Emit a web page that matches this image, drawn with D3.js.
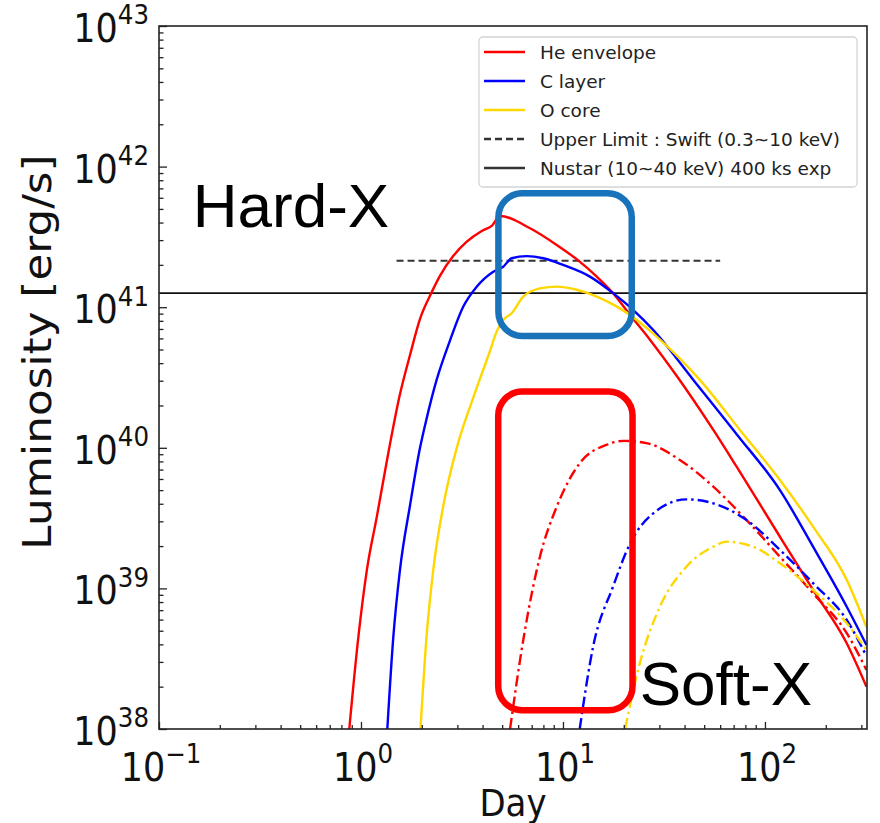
<!DOCTYPE html>
<html>
<head>
<meta charset="utf-8">
<script src="https://cdn.jsdelivr.net/npm/d3@7"></script>
<style>
  html, body { margin: 0; padding: 0; background: #fff; }
  svg { display: block; }
</style>
</head>
<body>
<svg id="chart" width="880" height="823"></svg>
<script>
// ---- Data: [day, luminosity erg/s] ----
const heEnvelopeHard = [
  [0.875, 1.0e38], [0.97, 4.48e38], [1.07, 1.36e39], [1.20, 3.28e39], [1.34, 7.93e39],
  [1.56, 2.41e40], [1.75, 4.59e40], [1.96, 8.26e40], [2.24, 1.28e41], [2.46, 1.67e41],
  [2.86, 2.31e41], [3.33, 2.91e41], [3.96, 3.48e41], [4.44, 3.79e41], [4.88, 4.45e41],
  [6.87, 3.64e41], [9.31, 2.77e41], [12.1, 2.11e41], [14.7, 1.65e41], [17.7, 1.26e41],
  [21.5, 8.8e40], [27.0, 5.85e40], [36.6, 3.24e40], [55.5, 1.34e40], [72.4, 7.34e39],
  [118.6, 2.33e39], [173, 9.75e38], [254, 4.07e38], [318, 2.0e38]
];
const cLayerHard = [
  [1.35, 1.0e38], [1.445, 4.48e38], [1.56, 1.36e39], [1.75, 3.92e39], [1.96, 1.0e40],
  [2.11, 1.60e40], [2.37, 3.05e40], [2.76, 5.81e40], [3.21, 1.01e41], [3.74, 1.40e41],
  [4.52, 1.79e41], [5.06, 1.94e41], [5.57, 2.23e41], [6.61, 2.31e41], [7.99, 2.23e41],
  [10.0, 2.0e41], [13.6, 1.65e41], [17.7, 1.26e41], [22.3, 9.55e40], [28.0, 6.89e40],
  [44.2, 3.04e40], [72.4, 1.25e40], [118.6, 5.0e39], [173, 1.98e39], [254, 7.41e38],
  [318, 3.96e38]
];
const oCoreHard = [
  [1.97, 1.0e38], [2.11, 4.48e38], [2.28, 1.36e39], [2.56, 3.92e39], [2.98, 1.0e40],
  [3.60, 2.28e40], [4.35, 4.88e40], [4.70, 6.73e40], [5.06, 8.11e40], [5.57, 9.05e40],
  [6.36, 1.19e41], [7.69, 1.36e41], [9.31, 1.40e41], [11.7, 1.33e41], [14.7, 1.19e41],
  [18.5, 1.01e41], [23.2, 8.11e40], [29.1, 6.17e40], [47.6, 3.04e40], [75.2, 1.34e40],
  [118.6, 5.9e39], [173, 2.75e39], [254, 1.15e39], [318, 5.31e38]
];
const heEnvelopeSoft = [
  [5.47, 1.0e38], [6.36, 4.3e38], [7.69, 1.68e39], [9.31, 3.81e39], [12.1, 7.76e39],
  [16.4, 1.05e40], [19.9, 1.12e40], [25.9, 1.08e40], [37.9, 8.19e39], [55.5, 5.29e39],
  [81.1, 3.06e39], [118.6, 1.68e39], [173, 9.23e38], [254, 4.8e38], [318, 2.63e38]
];
const cLayerSoft = [
  [12.1, 1.0e38], [14.1, 3.85e38], [17.7, 1.03e39], [21.5, 2.09e39], [28.0, 3.42e39],
  [40.9, 4.3e39], [55.5, 4.03e39], [81.1, 3.06e39], [118.6, 1.88e39], [173, 1.09e39],
  [254, 5.96e38], [318, 3.3e38]
];
const oCoreSoft = [
  [20.3, 1.0e38], [24.0, 2.93e38], [30.2, 7.41e38], [40.9, 1.43e39], [55.5, 1.98e39],
  [64.5, 2.15e39], [87.5, 1.98e39], [118.6, 1.51e39], [173, 9.75e38], [254, 5.65e38],
  [318, 3.65e38]
];

// Detection limits
const swiftLimit = { from: 1.5, to: 60, lum: 2.14e41 };
const nustarLimit = 1.26e41;

// Axis ticks
const xMajorTicks = [0.1, 1, 10, 100];
const xExponents = ["\u22121", "0", "1", "2"];
const yMajorTicks = [1e38, 1e39, 1e40, 1e41, 1e42, 1e43];
const yExponents = ["38", "39", "40", "41", "42", "43"];

// Legend entries
const legendLabels = ["He envelope", "C layer", "O core",
  "Upper Limit : Swift (0.3~10 keV)", "Nustar (10~40 keV) 400 ks exp"];

// Highlight boxes (day range, luminosity range)
const hardBox = { d0: 4.79, d1: 21.9, l0: 6.24e40, l1: 6.46e41 };
const softBox = { d0: 4.78, d1: 22.1, l0: 1.36e38, l1: 2.51e40 };

// ---- Layout ----
const svg = d3.select("#chart");
const plot = { left: 159, right: 867, top: 26, bottom: 729 };

const x = d3.scaleLog().domain([0.1, 320]).range([plot.left, plot.right]);
const y = d3.scaleLog().domain([1e38, 1e43]).range([plot.bottom, plot.top]);

const RED = "#ff0000", BLUE = "#0000ff", GOLD = "#ffd700";
const DASHDOT = "11,4,2.5,4";

svg.append("defs").append("clipPath").attr("id", "plotClip")
  .append("rect")
  .attr("x", plot.left).attr("y", plot.top)
  .attr("width", plot.right - plot.left).attr("height", plot.bottom - plot.top);

const line = d3.line()
  .x(d => x(d[0])).y(d => y(d[1]))
  .curve(d3.curveMonotoneX);

const curves = svg.append("g").attr("clip-path", "url(#plotClip)");

// Detection limit lines
curves.append("line")
  .attr("x1", x(swiftLimit.from)).attr("x2", x(swiftLimit.to))
  .attr("y1", y(swiftLimit.lum)).attr("y2", y(swiftLimit.lum))
  .attr("stroke", "#333").attr("stroke-width", 2).attr("stroke-dasharray", "7,4");
curves.append("line")
  .attr("x1", plot.left).attr("x2", plot.right)
  .attr("y1", y(nustarLimit)).attr("y2", y(nustarLimit))
  .attr("stroke", "#111").attr("stroke-width", 1.8);

const series = [
  { data: heEnvelopeHard, color: RED, dash: null },
  { data: cLayerHard, color: BLUE, dash: null },
  { data: oCoreHard, color: GOLD, dash: null },
  { data: heEnvelopeSoft, color: RED, dash: DASHDOT },
  { data: cLayerSoft, color: BLUE, dash: DASHDOT },
  { data: oCoreSoft, color: GOLD, dash: DASHDOT }
];
series.forEach(s => {
  curves.append("path")
    .datum(s.data)
    .attr("d", line)
    .attr("fill", "none")
    .attr("stroke", s.color)
    .attr("stroke-width", 2.4)
    .attr("stroke-linejoin", "round")
    .attr("stroke-dasharray", s.dash);
});

// ---- Axes (ticks pointing inward) ----
const xMinor = [];
for (let e = -1; e <= 2; e++) {
  for (let m = 2; m <= 9; m++) {
    const v = m * Math.pow(10, e);
    if (v <= 320) xMinor.push(v);
  }
}
const yMinor = [];
for (let e = 38; e < 43; e++) {
  for (let m = 2; m <= 9; m++) yMinor.push(m * Math.pow(10, e));
}

const xAxisMajor = svg.append("g")
  .attr("transform", `translate(0,${plot.bottom})`)
  .call(d3.axisBottom(x).tickValues(xMajorTicks).tickSize(-7).tickFormat(""));
const xAxisMinor = svg.append("g")
  .attr("transform", `translate(0,${plot.bottom})`)
  .call(d3.axisBottom(x).tickValues(xMinor).tickSize(-4).tickFormat(""));
const yAxisMajor = svg.append("g")
  .attr("transform", `translate(${plot.left},0)`)
  .call(d3.axisLeft(y).tickValues(yMajorTicks).tickSize(-8).tickFormat(""));
const yAxisMinor = svg.append("g")
  .attr("transform", `translate(${plot.left},0)`)
  .call(d3.axisLeft(y).tickValues(yMinor).tickSize(-4.5).tickFormat(""));

[xAxisMajor, xAxisMinor, yAxisMajor, yAxisMinor].forEach(g => {
  g.select(".domain").remove();
  g.selectAll(".tick line").attr("stroke", "#222").attr("stroke-width", 1.3);
});

// Frame
svg.append("rect")
  .attr("x", plot.left).attr("y", plot.top)
  .attr("width", plot.right - plot.left).attr("height", plot.bottom - plot.top)
  .attr("fill", "none").attr("stroke", "#222").attr("stroke-width", 1.6);

const FONT = "'DejaVu Sans', sans-serif";

// Power-of-ten tick labels
function powerLabel(g, base, exp, anchor) {
  const t = g.append("text")
    .attr("font-family", FONT).attr("fill", "#111")
    .attr("text-anchor", anchor);
  t.append("tspan").attr("font-size", 35).text(base);
  t.append("tspan").attr("font-size", 24.5).attr("dy", -16).text(exp);
  return t;
}

xMajorTicks.forEach((v, i) => {
  const g = svg.append("g").attr("transform", `translate(${x(v) + 2},781) scale(1,1.1)`);
  powerLabel(g, "10", xExponents[i], "middle");
});
yMajorTicks.forEach((v, i) => {
  const g = svg.append("g").attr("transform", `translate(149,${y(v) + 16}) scale(1,1.1)`);
  powerLabel(g, "10", yExponents[i], "end");
});

// Axis titles
svg.append("g").attr("transform", `translate(${(plot.left + plot.right) / 2},816) scale(1,1.1)`)
  .append("text")
  .attr("font-family", FONT).attr("font-size", 34).attr("fill", "#111")
  .attr("text-anchor", "middle").text("Day");
svg.append("g").attr("transform", "translate(51,352) scale(1,1.12) rotate(-90)")
  .append("text")
  .attr("font-family", FONT).attr("font-size", 39).attr("fill", "#111")
  .attr("text-anchor", "middle").text("Luminosity [erg/s]");

// ---- Legend ----
const legend = svg.append("g");
legend.append("rect")
  .attr("x", 479).attr("y", 37).attr("width", 378).attr("height", 150)
  .attr("rx", 4).attr("fill", "#fff").attr("fill-opacity", 0.85)
  .attr("stroke", "#d4d4d4").attr("stroke-width", 1.3);
const legendStyles = [
  { color: RED, dash: null }, { color: BLUE, dash: null }, { color: GOLD, dash: null },
  { color: "#333", dash: "7,4" }, { color: "#333", dash: null }
];
legendLabels.forEach((label, i) => {
  const cy = 52 + i * 29;
  legend.append("line")
    .attr("x1", 484).attr("x2", 525).attr("y1", cy).attr("y2", cy)
    .attr("stroke", legendStyles[i].color).attr("stroke-width", 2.4)
    .attr("stroke-dasharray", legendStyles[i].dash);
  legend.append("text")
    .attr("x", 540).attr("y", cy + 7)
    .attr("font-family", FONT).attr("font-size", 18.5).attr("fill", "#222")
    .text(label);
});

// ---- Highlight boxes and region labels ----
function highlight(b, color) {
  svg.append("rect")
    .attr("x", x(b.d0)).attr("y", y(b.l1))
    .attr("width", x(b.d1) - x(b.d0)).attr("height", y(b.l0) - y(b.l1))
    .attr("rx", 24).attr("ry", 24)
    .attr("fill", "none").attr("stroke", color).attr("stroke-width", 6.5);
}
highlight(hardBox, "#1873bb");
highlight(softBox, "#ff0000");

svg.append("text")
  .attr("x", x(0.147)).attr("y", y(3.74e41))
  .attr("font-family", "'Liberation Sans', Arial, sans-serif").attr("font-size", 62)
  .attr("fill", "#000").text("Hard-X");
svg.append("text")
  .attr("x", x(24.0)).attr("y", y(1.48e38))
  .attr("font-family", "'Liberation Sans', Arial, sans-serif").attr("font-size", 62)
  .attr("fill", "#000").text("Soft-X");
</script>
</body>
</html>
